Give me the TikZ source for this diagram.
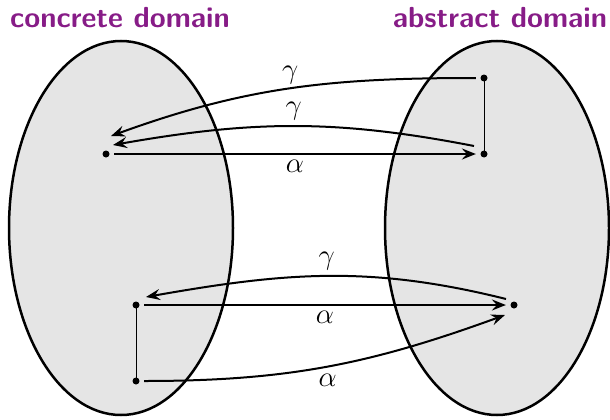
\documentclass[tikz,border=0pt]{standalone}
\usepackage{amsmath}
\usepackage{tikz}
\usetikzlibrary{calc, positioning, arrows.meta}
\usepackage{xcolor}
\definecolor{domTitle}{RGB}{135, 28, 135}
\definecolor{domFill}{RGB}{229, 229, 229}

\tikzset{
  domshape/.style={draw, line width=1.25pt, fill=domFill},
  domtitle/.style={text=domTitle, anchor=base, font=\sffamily\bfseries\fontsize{14.5}{17}\selectfont},
  elem/.style={circle, fill, inner sep=0pt, minimum size=3.5pt, outer sep=2.3pt},
  mapto/.style={->, line width=1pt},
  maplabel/.style={font=\fontsize{14}{16}\selectfont, inner sep=2.5pt},
  link/.style={line width=0.5pt}
}

\begin{document}
\begin{tikzpicture}[x=0.5pt, y=0.5pt, >={Stealth[length=7pt, width=5.5pt, inset=2.5pt]}]
  \useasboundingbox (0,0) rectangle (610,419);
  % the two domains
  \draw[domshape] (121,191) ellipse (112 and 187);
  \draw[domshape] (497,191) ellipse (112 and 187);
  \node[domtitle] (cTitle) at (120,392) {concrete domain};
  \node[domtitle] (aTitle) at (500,392) {abstract domain};

  % elements
  \node[elem] (cA) at (106,265) {};
  \node[elem] (aT) at (484,341) {};
  \node[elem] (aB) at (484,265) {};
  \node[elem] (cT) at (136,114) {};
  \node[elem] (cB) at (136,38) {};
  \node[elem] (aR) at (514,114) {};
  \draw[link] (aT.center) -- (aB.center);
  \draw[link] (cT.center) -- (cB.center);

  % upper part
  \draw[mapto] (cA) -- node[maplabel, below] {$\alpha$} (aB);
  \draw[mapto] (aT) to[out=180, in=20]
    node[maplabel, above, yshift=-1pt] {$\gamma$} ($(cA)+(5,18)$);
  \draw[mapto] ($(aB)+(-10,8)$) to[out=169, in=10]
    node[maplabel, above] {$\gamma$} ($(cA)+(7,9)$);

  % lower part
  \draw[mapto] (cT) -- node[maplabel, below] {$\alpha$} (aR);
  \draw[mapto] ($(aR)+(-8,6)$) to[out=166, in=10]
    node[maplabel, above] {$\gamma$} ($(cT)+(10,8)$);
  \draw[mapto] (cB) to[out=0, in=200]
    node[maplabel, below, yshift=-1pt] {$\alpha$} ($(aR)+(-9,-10)$);
\end{tikzpicture}
\end{document}
